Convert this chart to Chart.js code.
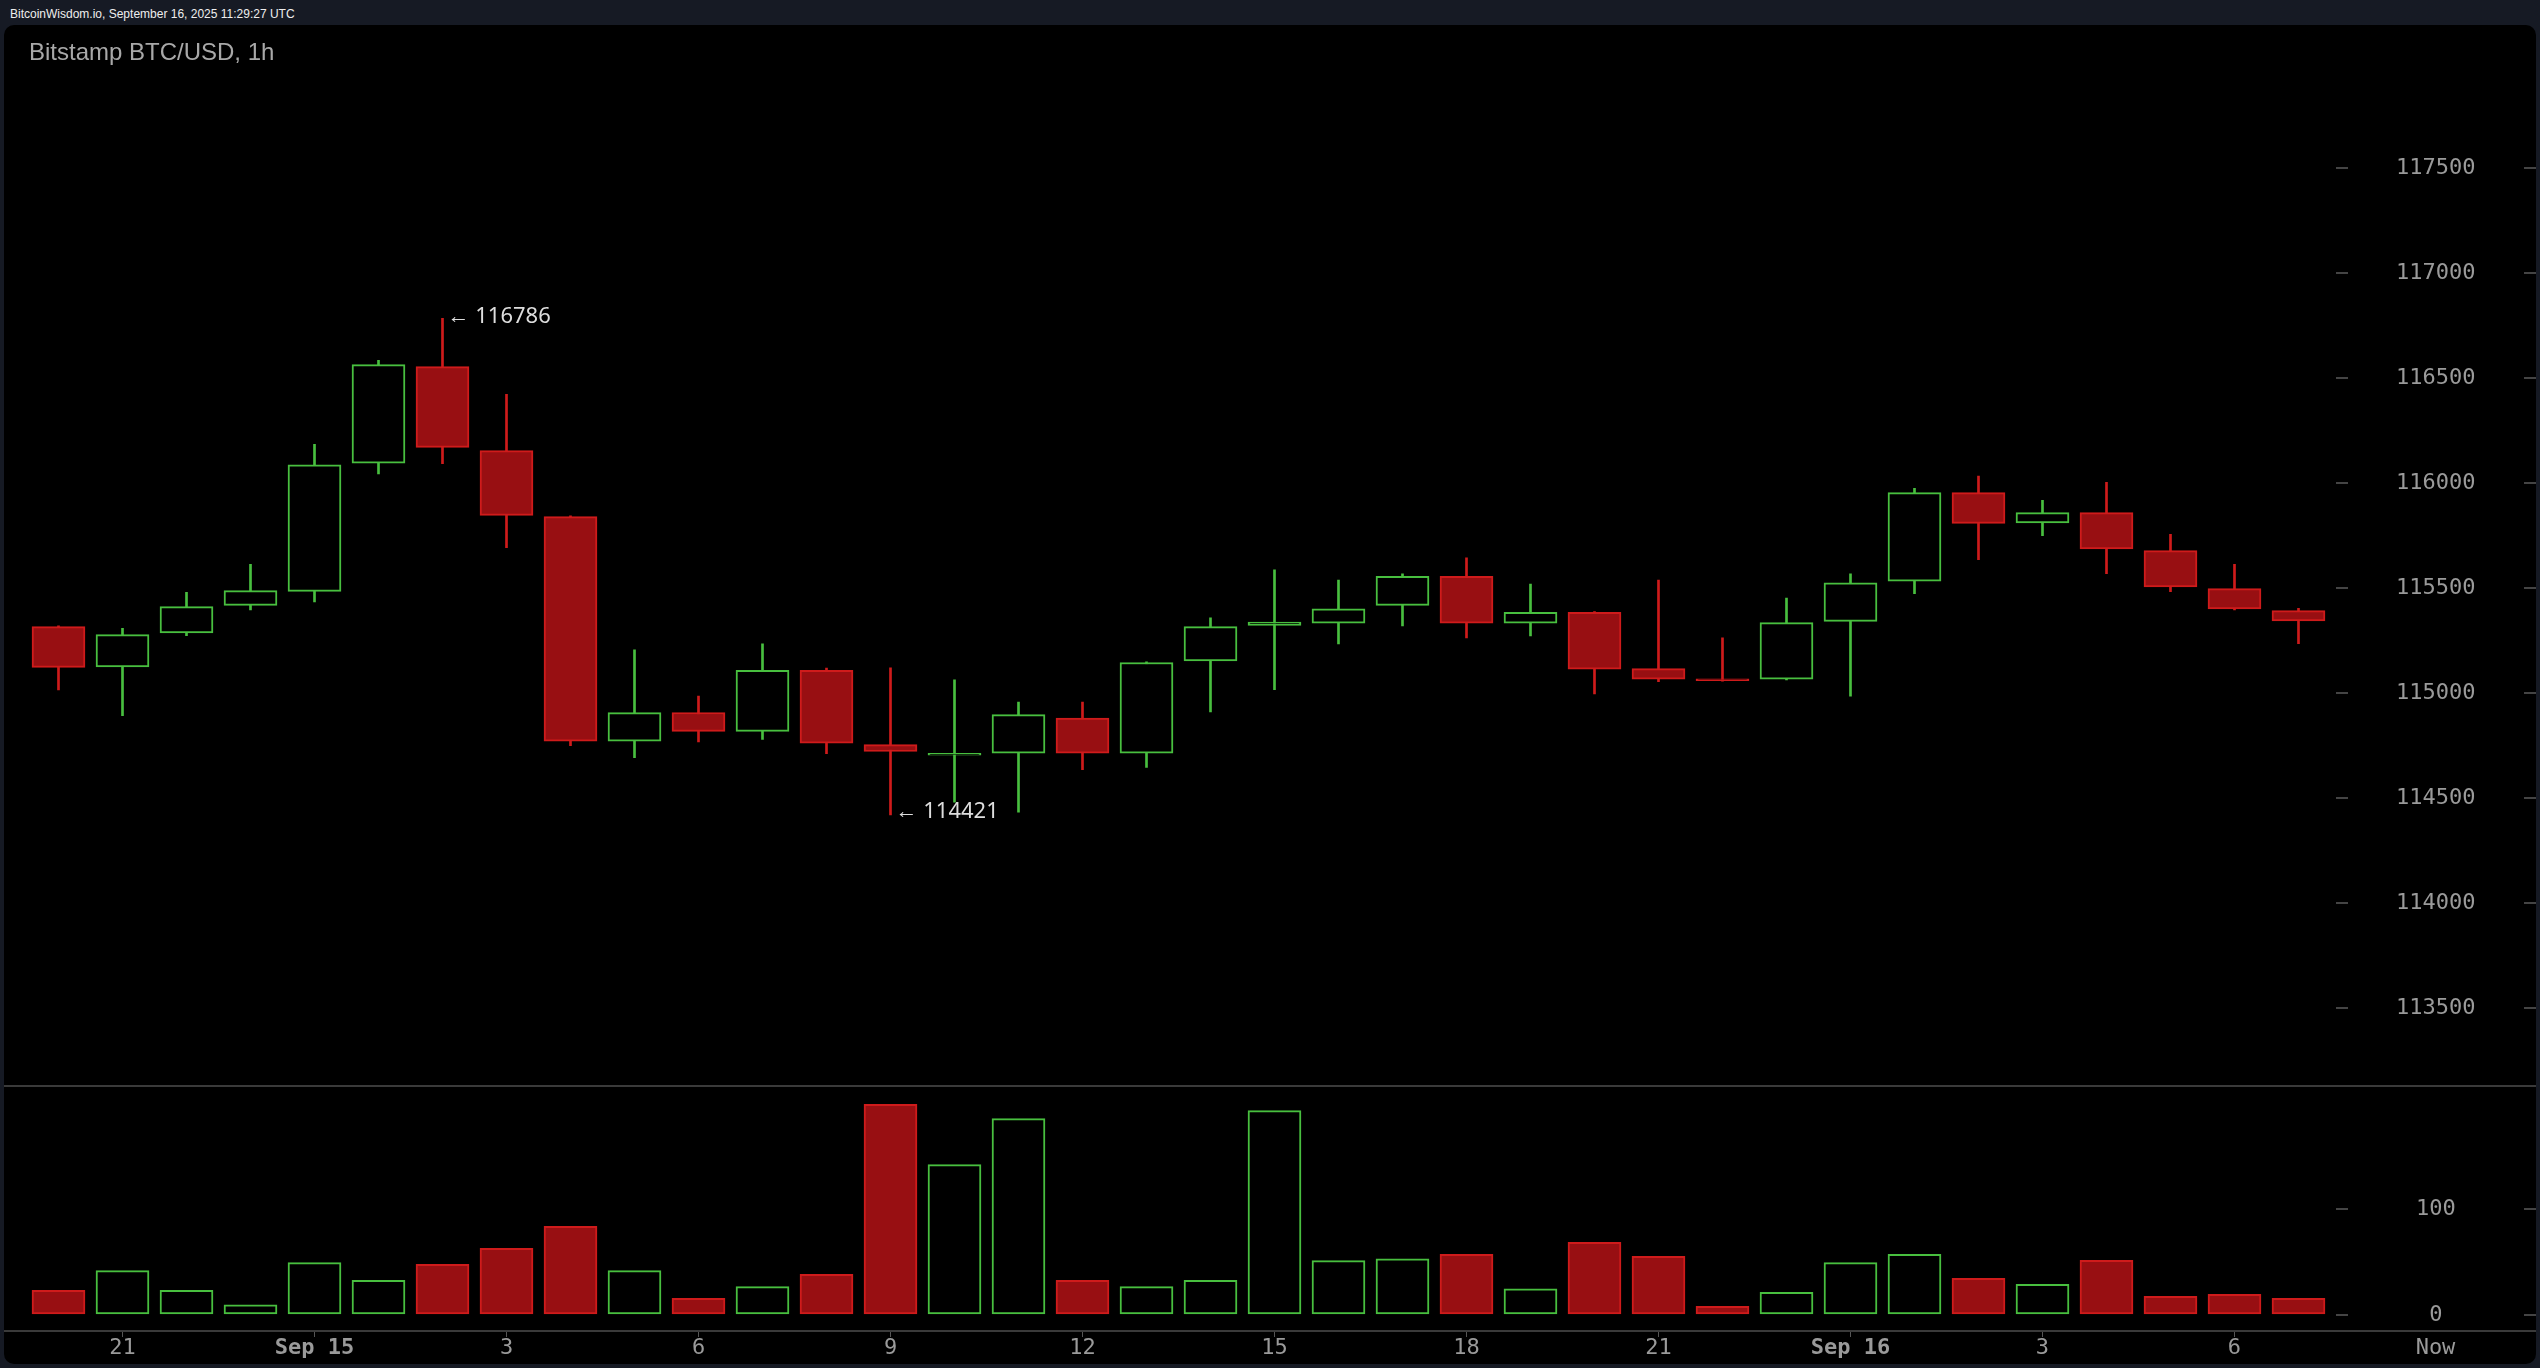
<!DOCTYPE html>
<html>
<head>
<meta charset="utf-8">
<title>Bitstamp BTC/USD, 1h</title>
<script src="https://cdn.jsdelivr.net/npm/chart.js@4.4.1/dist/chart.umd.min.js"></script>
<style>
    html, body { margin: 0; padding: 0; }
    body {
        width: 2540px; height: 1368px; overflow: hidden; position: relative;
        background: #161a24; font-family: "Liberation Sans", Arial, sans-serif;
    }
    #stamp {
        position: absolute; left: 10px; top: 7px;
        font-size: 12px; line-height: 14px; color: #eeeeee;
    }
    #frame {
        position: absolute; left: 4px; top: 25px; width: 2532px; height: 1339px;
        background: #000; border-radius: 10px; overflow: hidden;
    }
    #title {
        position: absolute; left: 25px; top: 15px; z-index: 2;
        font-size: 24px; line-height: 24px; color: #a8a8a8;
    }
    #priceChart { position: absolute; left: 0; top: 0; }
    #volChart { position: absolute; left: 0; top: 1062px; }
</style>
</head>
<body>
<div id="stamp">BitcoinWisdom.io, September 16, 2025 11:29:27 UTC</div>
<div id="frame">
    <div id="title">Bitstamp BTC/USD, 1h</div>
    <canvas id="priceChart" width="2532" height="1062"></canvas>
    <canvas id="volChart" width="2532" height="277"></canvas>
</div>
<script>
// horas de cada vela (1h)
var hours = ['20', '21', '22', '23', 'Sep 15', '1', '2', '3', '4', '5', '6', '7', '8', '9', '10', '11',
    '12', '13', '14', '15', '16', '17', '18', '19', '20', '21', '22', '23', 'Sep 16', '1', '2', '3',
    '4', '5', '6', '7'];

var opens = [115318, 115126, 115288, 115419, 115486, 116097, 116556, 116156, 115842, 114772,
    114909, 114819, 115110, 114756, 114705, 114715, 114882, 114715, 115154, 115323,
    115334, 115419, 115557, 115334, 115386, 115118, 115062, 115067, 115343, 115534,
    115956, 115812, 115861, 115680, 115499, 115394];
var highs = [115322, 115310, 115481, 115615, 116186, 116586, 116786, 116424, 115846, 115207,
    114987, 115236, 115120, 115121, 115064, 114958, 114958, 115150, 115360, 115588,
    115540, 115569, 115645, 115521, 115390, 115540, 115264, 115454, 115569, 115977,
    116035, 115919, 116005, 115758, 115615, 115405];
var lows = [115016, 114894, 115275, 115397, 115435, 116045, 116094, 115694, 114751, 114694,
    114769, 114780, 114713, 114421, 114482, 114434, 114637, 114647, 114912, 115017,
    115235, 115321, 115264, 115273, 114997, 115056, 115058, 115064, 114987, 115475,
    115637, 115751, 115570, 115484, 115398, 115237];
var closes = [115124, 115280, 115413, 115489, 116089, 116566, 116172, 115848, 114772, 114908,
    114819, 115110, 114763, 114723, 114708, 114899, 114715, 115147, 115318, 115340,
    115403, 115557, 115334, 115386, 115115, 115067, 115060, 115337, 115527, 115956,
    115810, 115861, 115688, 115507, 115402, 115345];
var volumes = [23.3, 41.8, 23.3, 9.7, 49.4, 32.7, 47.8, 62.9, 83.6, 41.8,
    15.7, 26.7, 38.4, 198.7, 141.8, 185.2, 32.7, 26.7, 32.7, 192.8,
    51.3, 53.1, 57.2, 24.8, 68.6, 55.3, 8.2, 21.4, 49.4, 57.2,
    34.6, 28.9, 51.6, 17.6, 19.5, 15.7];

var priceTicks = [113500, 114000, 114500, 115000, 115500, 116000, 116500, 117000, 117500];
var volumeTicks = [0, 100];

var upColor = '#48bf3f';
var downColor = '#cf1b1b';
var downFill = '#980f12';
var axisColor = '#9a9a9a';
var monoFont = 'DejaVu Sans Mono';

var isUp = opens.map(function (o, i) { return closes[i] >= o; });
var bodyFill = isUp.map(function (u) { return u ? '#000000' : downFill; });
var lineColor = isUp.map(function (u) { return u ? upColor : downColor; });

var xMin = -0.5, xMax = 35.586;

// marcas cortas a la derecha del eje
var rightTicks = {
    id: 'rightTicks',
    afterDraw: function (chart) {
        var s = chart.scales.y;
        var ctx = chart.ctx;
        ctx.save();
        ctx.fillStyle = '#444444';
        s.ticks.forEach(function (t) {
            ctx.fillRect(s.right - 12, Math.round(s.getPixelForValue(t.value)) - 1, 12, 2);
        });
        ctx.restore();
    }
};

// maximo y minimo, y linea separadora abajo
var extremos = {
    id: 'extremos',
    afterDatasetsDraw: function (chart) {
        var x = chart.scales.x, y = chart.scales.y, ctx = chart.ctx;
        var hi = highs.indexOf(Math.max.apply(null, highs));
        var lo = lows.indexOf(Math.min.apply(null, lows));
        ctx.save();
        ctx.font = '22px "Noto Sans"';
        ctx.fillStyle = '#dddddd';
        ctx.textAlign = 'left';
        ctx.textBaseline = 'middle';
        ctx.fillText('\u2190 ' + highs[hi], x.getPixelForValue(hi) + 5, y.getPixelForValue(highs[hi]) - 2);
        ctx.fillText('\u2190 ' + lows[lo], x.getPixelForValue(lo) + 5, y.getPixelForValue(lows[lo]) - 3);
        ctx.fillStyle = '#3a3a3a';
        ctx.fillRect(0, chart.height - 2, chart.width, 2);
        ctx.restore();
    }
};

var ctxPrice = document.getElementById('priceChart').getContext('2d');
var chartPrice = new Chart(ctxPrice, {
    type: 'bar',
    data: {
        datasets: [{
            label: 'Cuerpo',
            data: opens.map(function (o, i) { return { x: i, y: [o, closes[i]] }; }),
            backgroundColor: bodyFill,
            borderColor: lineColor,
            borderWidth: 2,
            borderSkipped: false,
            barThickness: 53,
            minBarLength: 2,
            grouped: false,
            order: 1
        }, {
            label: 'Mecha',
            data: highs.map(function (h, i) { return { x: i, y: [lows[i], h] }; }),
            backgroundColor: lineColor,
            borderWidth: 0,
            barThickness: 2,
            grouped: false,
            order: 2
        }]
    },
    options: {
        responsive: false,
        animation: false,
        layout: { padding: { left: 22.5, right: 0, top: 0, bottom: 0 } },
        plugins: { legend: { display: false }, tooltip: { enabled: false } },
        scales: {
            x: { type: 'linear', min: xMin, max: xMax, offset: false, grid: { offset: false }, display: false },
            y: {
                position: 'right',
                min: 113125,
                max: 118183.5,
                afterBuildTicks: function (s) {
                    s.ticks = priceTicks.map(function (v) { return { value: v }; });
                },
                afterFit: function (s) { s.width = 200; s.paddingTop = 0; s.paddingBottom = 0; },
                grid: { drawOnChartArea: false, drawTicks: true, tickLength: 12, color: '#444444', lineWidth: 2 },
                border: { display: false },
                ticks: {
                    padding: 48,
                    crossAlign: 'center',
                    color: axisColor,
                    font: { family: monoFont, size: 22 },
                    callback: function (v) { return String(v); }
                }
            }
        }
    },
    plugins: [rightTicks, extremos]
});

// linea del eje x y etiqueta "Now"
var marco = {
    id: 'marco',
    afterDraw: function (chart) {
        var ctx = chart.ctx, w = chart.width;
        ctx.save();
        ctx.fillStyle = '#3a3a3a';
        ctx.fillRect(0, chart.chartArea.bottom - 1, w, 2);
        ctx.font = '22px ' + monoFont;
        ctx.fillStyle = axisColor;
        ctx.textAlign = 'center';
        ctx.textBaseline = 'middle';
        ctx.fillText('Now', chart.scales.y.left + 99.5, chart.chartArea.bottom + 17);
        ctx.restore();
    }
};

var ctxVol = document.getElementById('volChart').getContext('2d');
var chartVol = new Chart(ctxVol, {
    type: 'bar',
    data: {
        datasets: [{
            label: 'Volumen',
            data: volumes.map(function (v, i) { return { x: i, y: v }; }),
            backgroundColor: bodyFill,
            borderColor: lineColor,
            borderWidth: 2,
            borderSkipped: false,
            barThickness: 53,
            grouped: false
        }]
    },
    options: {
        responsive: false,
        animation: false,
        layout: { padding: { left: 22.5, right: 0, top: 0, bottom: 0 } },
        plugins: { legend: { display: false }, tooltip: { enabled: false } },
        scales: {
            x: {
                type: 'linear',
                min: xMin,
                max: xMax,
                offset: false,
                afterBuildTicks: function (s) {
                    s.ticks = hours.map(function (h, i) { return { value: i }; })
                        .filter(function (t) { return t.value % 3 === 1; });
                },
                afterFit: function (s) { s.height = 33; s.paddingLeft = 0; s.paddingRight = 0; },
                grid: { offset: false, drawOnChartArea: false, drawTicks: true, tickLength: 6, color: '#555555', lineWidth: 1 },
                border: { display: false },
                ticks: {
                    autoSkip: false,
                    maxRotation: 0,
                    padding: 0,
                    color: axisColor,
                    font: function (c) {
                        var bold = c.tick && String(hours[c.tick.value]).indexOf('Sep') === 0;
                        return { family: monoFont, size: 22, lineHeight: 1, weight: bold ? 'bold' : 'normal' };
                    },
                    callback: function (v) { return hours[v]; }
                }
            },
            y: {
                position: 'right',
                min: -15.1,
                max: 215.1,
                afterBuildTicks: function (s) {
                    s.ticks = volumeTicks.map(function (v) { return { value: v }; });
                },
                afterFit: function (s) { s.width = 200; s.paddingTop = 0; s.paddingBottom = 0; },
                grid: { drawOnChartArea: false, drawTicks: true, tickLength: 12, color: '#444444', lineWidth: 2 },
                border: { display: false },
                ticks: {
                    padding: 68,
                    crossAlign: 'center',
                    color: axisColor,
                    font: { family: monoFont, size: 22 },
                    callback: function (v) { return String(v); }
                }
            }
        }
    },
    plugins: [rightTicks, marco]
});
</script>
</body>
</html>
